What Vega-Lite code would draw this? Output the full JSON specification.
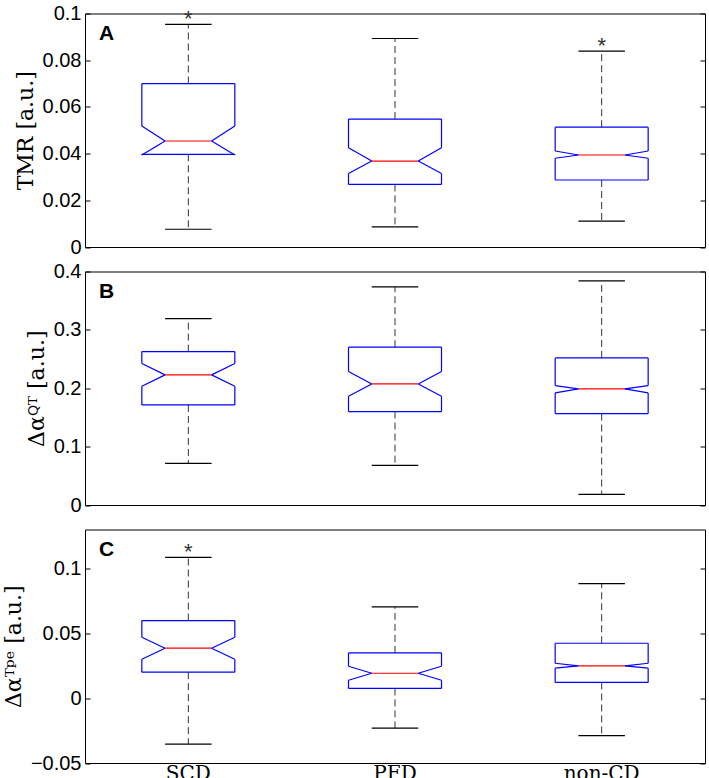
{
"$schema":"https://vega.github.io/schema/vega-lite/v6.json",
"padding":{"left":1,"top":2.5,"right":2,"bottom":0},
"background":"white",
"datasets":{"stats":[
{"panel":"A","group":"SCD","lo":0.0076,"q1":0.0397,"nlo":0.0394,"med":0.0454,"nhi":0.0518,"q3":0.07,"hi":0.0953,"star":true},
{"panel":"A","group":"PFD","lo":0.0086,"q1":0.0268,"nlo":0.0315,"med":0.0368,"nhi":0.0425,"q3":0.0548,"hi":0.0893,"star":false},
{"panel":"A","group":"non-CD","lo":0.0111,"q1":0.0287,"nlo":0.038,"med":0.0394,"nhi":0.0411,"q3":0.0513,"hi":0.0839,"star":true},
{"panel":"B","group":"SCD","lo":0.0714,"q1":0.1714,"nlo":0.2034,"med":0.2229,"nhi":0.2423,"q3":0.2628,"hi":0.3194,"star":false},
{"panel":"B","group":"PFD","lo":0.068,"q1":0.16,"nlo":0.1863,"med":0.2074,"nhi":0.2286,"q3":0.2703,"hi":0.3737,"star":false},
{"panel":"B","group":"non-CD","lo":0.0183,"q1":0.1566,"nlo":0.192,"med":0.1989,"nhi":0.2046,"q3":0.252,"hi":0.384,"star":false},
{"panel":"C","group":"SCD","lo":-0.0354,"q1":0.02,"nlo":0.03,"med":0.0385,"nhi":0.0469,"q3":0.0598,"hi":0.1085,"star":true},
{"panel":"C","group":"PFD","lo":-0.0231,"q1":0.0075,"nlo":0.0138,"med":0.0192,"nhi":0.0246,"q3":0.0349,"hi":0.0703,"star":false},
{"panel":"C","group":"non-CD","lo":-0.0289,"q1":0.0121,"nlo":0.0231,"med":0.0249,"nhi":0.0269,"q3":0.0423,"hi":0.0882,"star":false}
]},
"data":{"name":"stats"},
"spacing":24,
"bounds":"flush",
"config":{
 "view":{"stroke":"black","strokeWidth":1},
 "axisX":{"labels":false,"ticks":false,"domain":false,"grid":false},
 "axisY":{"grid":false,"domain":false}
},
"vconcat":[
{
 "width":620,"height":233.5,
 "transform":[{"filter":"datum.panel === 'A'"}],
 "resolve":{"axis":{"y":"independent"}},
 "layer":[
 {"layer":[
  {"mark":{"type":"rule","color":"#333333","strokeWidth":1,"strokeDash":[7,4]},
   "encoding":{"x":{"field":"group","type":"nominal","bandPosition":0.5,"scale":{"type":"band","paddingInner":0,"paddingOuter":0,"domain":["SCD","PFD","non-CD"]},"title":null,"axis":{"labels":false,"ticks":false,"domain":false,"title":null}},
    "y":{"field":"q3","type":"quantitative","scale":{"domain":[0,0.1]},"axis":{"title":"TMR [a.u.]","values":[0,0.02,0.04,0.06,0.08,0.1],"format":"~g","labelFont":"Liberation Sans","labelFontSize":20,"labelColor":"black","tickColor":"black","tickSize":-5,"labelPadding":9,"titleFont":"DejaVu Serif","titleFontSize":22,"titleFontWeight":"normal","titleColor":"black","titlePadding":5,"domain":false,"grid":false}},
    "y2":{"field":"hi"}}},
  {"mark":{"type":"rule","color":"#333333","strokeWidth":1,"strokeDash":[7,4]},
   "encoding":{"x":{"field":"group","type":"nominal","bandPosition":0.5,"title":null},"y":{"field":"q1","type":"quantitative","scale":{"domain":[0,0.1]}},"y2":{"field":"lo"}}},
  {"mark":{"type":"rule","color":"black","strokeWidth":1.2},
   "encoding":{"x":{"field":"group","type":"nominal","bandPosition":0.3875,"title":null},"x2":{"field":"group","bandPosition":0.6125,"title":null},"y":{"field":"hi","type":"quantitative","scale":{"domain":[0,0.1]}}}},
  {"mark":{"type":"rule","color":"black","strokeWidth":1.2},
   "encoding":{"x":{"field":"group","type":"nominal","bandPosition":0.3875,"title":null},"x2":{"field":"group","bandPosition":0.6125,"title":null},"y":{"field":"lo","type":"quantitative","scale":{"domain":[0,0.1]}}}},
  {"mark":{"type":"rule","color":"#0000ff","strokeWidth":1.2},
   "encoding":{"x":{"field":"group","type":"nominal","bandPosition":0.275,"title":null},"x2":{"field":"group","bandPosition":0.725,"title":null},"y":{"field":"q3","type":"quantitative","scale":{"domain":[0,0.1]}}}},
  {"mark":{"type":"rule","color":"#0000ff","strokeWidth":1.2},
   "encoding":{"x":{"field":"group","type":"nominal","bandPosition":0.275,"title":null},"x2":{"field":"group","bandPosition":0.725,"title":null},"y":{"field":"q1","type":"quantitative","scale":{"domain":[0,0.1]}}}},
  {"mark":{"type":"rule","color":"#0000ff","strokeWidth":1.2},
   "encoding":{"x":{"field":"group","type":"nominal","bandPosition":0.275,"title":null},"y":{"field":"q3","type":"quantitative","scale":{"domain":[0,0.1]}},"y2":{"field":"nhi"}}},
  {"mark":{"type":"rule","color":"#0000ff","strokeWidth":1.2},
   "encoding":{"x":{"field":"group","type":"nominal","bandPosition":0.725,"title":null},"y":{"field":"q3","type":"quantitative","scale":{"domain":[0,0.1]}},"y2":{"field":"nhi"}}},
  {"mark":{"type":"rule","color":"#0000ff","strokeWidth":1.2},
   "encoding":{"x":{"field":"group","type":"nominal","bandPosition":0.275,"title":null},"y":{"field":"q1","type":"quantitative","scale":{"domain":[0,0.1]}},"y2":{"field":"nlo"}}},
  {"mark":{"type":"rule","color":"#0000ff","strokeWidth":1.2},
   "encoding":{"x":{"field":"group","type":"nominal","bandPosition":0.725,"title":null},"y":{"field":"q1","type":"quantitative","scale":{"domain":[0,0.1]}},"y2":{"field":"nlo"}}},
  {"mark":{"type":"rule","color":"#0000ff","strokeWidth":1.2},
   "encoding":{"x":{"field":"group","type":"nominal","bandPosition":0.275,"title":null},"x2":{"field":"group","bandPosition":0.3875,"title":null},"y":{"field":"nhi","type":"quantitative","scale":{"domain":[0,0.1]}},"y2":{"field":"med"}}},
  {"mark":{"type":"rule","color":"#0000ff","strokeWidth":1.2},
   "encoding":{"x":{"field":"group","type":"nominal","bandPosition":0.275,"title":null},"x2":{"field":"group","bandPosition":0.3875,"title":null},"y":{"field":"nlo","type":"quantitative","scale":{"domain":[0,0.1]}},"y2":{"field":"med"}}},
  {"mark":{"type":"rule","color":"#0000ff","strokeWidth":1.2},
   "encoding":{"x":{"field":"group","type":"nominal","bandPosition":0.725,"title":null},"x2":{"field":"group","bandPosition":0.6125,"title":null},"y":{"field":"nhi","type":"quantitative","scale":{"domain":[0,0.1]}},"y2":{"field":"med"}}},
  {"mark":{"type":"rule","color":"#0000ff","strokeWidth":1.2},
   "encoding":{"x":{"field":"group","type":"nominal","bandPosition":0.725,"title":null},"x2":{"field":"group","bandPosition":0.6125,"title":null},"y":{"field":"nlo","type":"quantitative","scale":{"domain":[0,0.1]}},"y2":{"field":"med"}}},
  {"mark":{"type":"rule","color":"#ff0000","strokeWidth":1.2},
   "encoding":{"x":{"field":"group","type":"nominal","bandPosition":0.3875,"title":null},"x2":{"field":"group","bandPosition":0.6125,"title":null},"y":{"field":"med","type":"quantitative","scale":{"domain":[0,0.1]}}}},
  {"transform":[{"filter":"datum.star"}],
   "mark":{"type":"text","text":"*","font":"Liberation Sans","fontSize":22,"color":"#333333","align":"center","baseline":"alphabetic","dy":2},
   "encoding":{"x":{"field":"group","type":"nominal","bandPosition":0.5,"title":null},"y":{"field":"hi","type":"quantitative","scale":{"domain":[0,0.1]}}}},
  {"transform":[{"filter":"datum.group === 'SCD'"}],
   "mark":{"type":"text","font":"Liberation Sans","fontWeight":"bold","fontSize":21,"color":"black","align":"left","baseline":"alphabetic","dx":14,"dy":26.5},
   "encoding":{"x":{"field":"group","type":"nominal","bandPosition":0,"title":null},"y":{"datum":0.1,"type":"quantitative","scale":{"domain":[0,0.1]}},"text":{"field":"panel"}}}
 ]},
 {"mark":{"type":"rule","opacity":0},
  "encoding":{"y":{"field":"hi","type":"quantitative","scale":{"domain":[0,0.1]},"axis":{"orient":"right","labels":false,"title":null,"values":[0,0.02,0.04,0.06,0.08,0.1],"tickSize":-5,"tickColor":"black","domain":false,"grid":false}}}}
 ]
},
{
 "width":620,"height":233.5,
 "transform":[{"filter":"datum.panel === 'B'"}],
 "resolve":{"axis":{"y":"independent"}},
 "layer":[
 {"layer":[
  {"mark":{"type":"rule","color":"#333333","strokeWidth":1,"strokeDash":[7,4]},
   "encoding":{"x":{"field":"group","type":"nominal","bandPosition":0.5,"scale":{"type":"band","paddingInner":0,"paddingOuter":0,"domain":["SCD","PFD","non-CD"]},"title":null,"axis":{"labels":false,"ticks":false,"domain":false,"title":null}},
    "y":{"field":"q3","type":"quantitative","scale":{"domain":[0,0.4]},"axis":{"title":"Δαꟴᵀ [a.u.]","values":[0,0.1,0.2,0.3,0.4],"format":"~g","labelFont":"Liberation Sans","labelFontSize":20,"labelColor":"black","tickColor":"black","tickSize":-5,"labelPadding":9,"titleFont":"DejaVu Serif","titleFontSize":22,"titleFontWeight":"normal","titleColor":"black","titlePadding":5,"domain":false,"grid":false}},
    "y2":{"field":"hi"}}},
  {"mark":{"type":"rule","color":"#333333","strokeWidth":1,"strokeDash":[7,4]},
   "encoding":{"x":{"field":"group","type":"nominal","bandPosition":0.5,"title":null},"y":{"field":"q1","type":"quantitative","scale":{"domain":[0,0.4]}},"y2":{"field":"lo"}}},
  {"mark":{"type":"rule","color":"black","strokeWidth":1.2},
   "encoding":{"x":{"field":"group","type":"nominal","bandPosition":0.3875,"title":null},"x2":{"field":"group","bandPosition":0.6125,"title":null},"y":{"field":"hi","type":"quantitative","scale":{"domain":[0,0.4]}}}},
  {"mark":{"type":"rule","color":"black","strokeWidth":1.2},
   "encoding":{"x":{"field":"group","type":"nominal","bandPosition":0.3875,"title":null},"x2":{"field":"group","bandPosition":0.6125,"title":null},"y":{"field":"lo","type":"quantitative","scale":{"domain":[0,0.4]}}}},
  {"mark":{"type":"rule","color":"#0000ff","strokeWidth":1.2},
   "encoding":{"x":{"field":"group","type":"nominal","bandPosition":0.275,"title":null},"x2":{"field":"group","bandPosition":0.725,"title":null},"y":{"field":"q3","type":"quantitative","scale":{"domain":[0,0.4]}}}},
  {"mark":{"type":"rule","color":"#0000ff","strokeWidth":1.2},
   "encoding":{"x":{"field":"group","type":"nominal","bandPosition":0.275,"title":null},"x2":{"field":"group","bandPosition":0.725,"title":null},"y":{"field":"q1","type":"quantitative","scale":{"domain":[0,0.4]}}}},
  {"mark":{"type":"rule","color":"#0000ff","strokeWidth":1.2},
   "encoding":{"x":{"field":"group","type":"nominal","bandPosition":0.275,"title":null},"y":{"field":"q3","type":"quantitative","scale":{"domain":[0,0.4]}},"y2":{"field":"nhi"}}},
  {"mark":{"type":"rule","color":"#0000ff","strokeWidth":1.2},
   "encoding":{"x":{"field":"group","type":"nominal","bandPosition":0.725,"title":null},"y":{"field":"q3","type":"quantitative","scale":{"domain":[0,0.4]}},"y2":{"field":"nhi"}}},
  {"mark":{"type":"rule","color":"#0000ff","strokeWidth":1.2},
   "encoding":{"x":{"field":"group","type":"nominal","bandPosition":0.275,"title":null},"y":{"field":"q1","type":"quantitative","scale":{"domain":[0,0.4]}},"y2":{"field":"nlo"}}},
  {"mark":{"type":"rule","color":"#0000ff","strokeWidth":1.2},
   "encoding":{"x":{"field":"group","type":"nominal","bandPosition":0.725,"title":null},"y":{"field":"q1","type":"quantitative","scale":{"domain":[0,0.4]}},"y2":{"field":"nlo"}}},
  {"mark":{"type":"rule","color":"#0000ff","strokeWidth":1.2},
   "encoding":{"x":{"field":"group","type":"nominal","bandPosition":0.275,"title":null},"x2":{"field":"group","bandPosition":0.3875,"title":null},"y":{"field":"nhi","type":"quantitative","scale":{"domain":[0,0.4]}},"y2":{"field":"med"}}},
  {"mark":{"type":"rule","color":"#0000ff","strokeWidth":1.2},
   "encoding":{"x":{"field":"group","type":"nominal","bandPosition":0.275,"title":null},"x2":{"field":"group","bandPosition":0.3875,"title":null},"y":{"field":"nlo","type":"quantitative","scale":{"domain":[0,0.4]}},"y2":{"field":"med"}}},
  {"mark":{"type":"rule","color":"#0000ff","strokeWidth":1.2},
   "encoding":{"x":{"field":"group","type":"nominal","bandPosition":0.725,"title":null},"x2":{"field":"group","bandPosition":0.6125,"title":null},"y":{"field":"nhi","type":"quantitative","scale":{"domain":[0,0.4]}},"y2":{"field":"med"}}},
  {"mark":{"type":"rule","color":"#0000ff","strokeWidth":1.2},
   "encoding":{"x":{"field":"group","type":"nominal","bandPosition":0.725,"title":null},"x2":{"field":"group","bandPosition":0.6125,"title":null},"y":{"field":"nlo","type":"quantitative","scale":{"domain":[0,0.4]}},"y2":{"field":"med"}}},
  {"mark":{"type":"rule","color":"#ff0000","strokeWidth":1.2},
   "encoding":{"x":{"field":"group","type":"nominal","bandPosition":0.3875,"title":null},"x2":{"field":"group","bandPosition":0.6125,"title":null},"y":{"field":"med","type":"quantitative","scale":{"domain":[0,0.4]}}}},
  {"transform":[{"filter":"datum.group === 'SCD'"}],
   "mark":{"type":"text","font":"Liberation Sans","fontWeight":"bold","fontSize":21,"color":"black","align":"left","baseline":"alphabetic","dx":14,"dy":26.5},
   "encoding":{"x":{"field":"group","type":"nominal","bandPosition":0,"title":null},"y":{"datum":0.4,"type":"quantitative","scale":{"domain":[0,0.4]}},"text":{"field":"panel"}}}
 ]},
 {"mark":{"type":"rule","opacity":0},
  "encoding":{"y":{"field":"hi","type":"quantitative","scale":{"domain":[0,0.4]},"axis":{"orient":"right","labels":false,"title":null,"values":[0,0.1,0.2,0.3,0.4],"tickSize":-5,"tickColor":"black","domain":false,"grid":false}}}}
 ]
},
{
 "width":620,"height":233.5,
 "transform":[{"filter":"datum.panel === 'C'"}],
 "resolve":{"axis":{"y":"independent"}},
 "layer":[
 {"layer":[
  {"mark":{"type":"rule","color":"#333333","strokeWidth":1,"strokeDash":[7,4]},
   "encoding":{"x":{"field":"group","type":"nominal","bandPosition":0.5,"scale":{"type":"band","paddingInner":0,"paddingOuter":0,"domain":["SCD","PFD","non-CD"]},"title":null,"axis":{"labels":true,"labelAngle":0,"labelFont":"DejaVu Serif","labelFontSize":20,"labelColor":"black","labelPadding":0,"ticks":false,"domain":false,"title":null}},
    "y":{"field":"q3","type":"quantitative","scale":{"domain":[-0.05,0.13]},"axis":{"title":"Δαᵀᵖᵉ [a.u.]","values":[-0.05,0,0.05,0.1],"format":"~g","labelFont":"Liberation Sans","labelFontSize":20,"labelColor":"black","tickColor":"black","tickSize":-5,"labelPadding":9,"titleFont":"DejaVu Serif","titleFontSize":22,"titleFontWeight":"normal","titleColor":"black","titlePadding":5,"domain":false,"grid":false}},
    "y2":{"field":"hi"}}},
  {"mark":{"type":"rule","color":"#333333","strokeWidth":1,"strokeDash":[7,4]},
   "encoding":{"x":{"field":"group","type":"nominal","bandPosition":0.5,"title":null},"y":{"field":"q1","type":"quantitative","scale":{"domain":[-0.05,0.13]}},"y2":{"field":"lo"}}},
  {"mark":{"type":"rule","color":"black","strokeWidth":1.2},
   "encoding":{"x":{"field":"group","type":"nominal","bandPosition":0.3875,"title":null},"x2":{"field":"group","bandPosition":0.6125,"title":null},"y":{"field":"hi","type":"quantitative","scale":{"domain":[-0.05,0.13]}}}},
  {"mark":{"type":"rule","color":"black","strokeWidth":1.2},
   "encoding":{"x":{"field":"group","type":"nominal","bandPosition":0.3875,"title":null},"x2":{"field":"group","bandPosition":0.6125,"title":null},"y":{"field":"lo","type":"quantitative","scale":{"domain":[-0.05,0.13]}}}},
  {"mark":{"type":"rule","color":"#0000ff","strokeWidth":1.2},
   "encoding":{"x":{"field":"group","type":"nominal","bandPosition":0.275,"title":null},"x2":{"field":"group","bandPosition":0.725,"title":null},"y":{"field":"q3","type":"quantitative","scale":{"domain":[-0.05,0.13]}}}},
  {"mark":{"type":"rule","color":"#0000ff","strokeWidth":1.2},
   "encoding":{"x":{"field":"group","type":"nominal","bandPosition":0.275,"title":null},"x2":{"field":"group","bandPosition":0.725,"title":null},"y":{"field":"q1","type":"quantitative","scale":{"domain":[-0.05,0.13]}}}},
  {"mark":{"type":"rule","color":"#0000ff","strokeWidth":1.2},
   "encoding":{"x":{"field":"group","type":"nominal","bandPosition":0.275,"title":null},"y":{"field":"q3","type":"quantitative","scale":{"domain":[-0.05,0.13]}},"y2":{"field":"nhi"}}},
  {"mark":{"type":"rule","color":"#0000ff","strokeWidth":1.2},
   "encoding":{"x":{"field":"group","type":"nominal","bandPosition":0.725,"title":null},"y":{"field":"q3","type":"quantitative","scale":{"domain":[-0.05,0.13]}},"y2":{"field":"nhi"}}},
  {"mark":{"type":"rule","color":"#0000ff","strokeWidth":1.2},
   "encoding":{"x":{"field":"group","type":"nominal","bandPosition":0.275,"title":null},"y":{"field":"q1","type":"quantitative","scale":{"domain":[-0.05,0.13]}},"y2":{"field":"nlo"}}},
  {"mark":{"type":"rule","color":"#0000ff","strokeWidth":1.2},
   "encoding":{"x":{"field":"group","type":"nominal","bandPosition":0.725,"title":null},"y":{"field":"q1","type":"quantitative","scale":{"domain":[-0.05,0.13]}},"y2":{"field":"nlo"}}},
  {"mark":{"type":"rule","color":"#0000ff","strokeWidth":1.2},
   "encoding":{"x":{"field":"group","type":"nominal","bandPosition":0.275,"title":null},"x2":{"field":"group","bandPosition":0.3875,"title":null},"y":{"field":"nhi","type":"quantitative","scale":{"domain":[-0.05,0.13]}},"y2":{"field":"med"}}},
  {"mark":{"type":"rule","color":"#0000ff","strokeWidth":1.2},
   "encoding":{"x":{"field":"group","type":"nominal","bandPosition":0.275,"title":null},"x2":{"field":"group","bandPosition":0.3875,"title":null},"y":{"field":"nlo","type":"quantitative","scale":{"domain":[-0.05,0.13]}},"y2":{"field":"med"}}},
  {"mark":{"type":"rule","color":"#0000ff","strokeWidth":1.2},
   "encoding":{"x":{"field":"group","type":"nominal","bandPosition":0.725,"title":null},"x2":{"field":"group","bandPosition":0.6125,"title":null},"y":{"field":"nhi","type":"quantitative","scale":{"domain":[-0.05,0.13]}},"y2":{"field":"med"}}},
  {"mark":{"type":"rule","color":"#0000ff","strokeWidth":1.2},
   "encoding":{"x":{"field":"group","type":"nominal","bandPosition":0.725,"title":null},"x2":{"field":"group","bandPosition":0.6125,"title":null},"y":{"field":"nlo","type":"quantitative","scale":{"domain":[-0.05,0.13]}},"y2":{"field":"med"}}},
  {"mark":{"type":"rule","color":"#ff0000","strokeWidth":1.2},
   "encoding":{"x":{"field":"group","type":"nominal","bandPosition":0.3875,"title":null},"x2":{"field":"group","bandPosition":0.6125,"title":null},"y":{"field":"med","type":"quantitative","scale":{"domain":[-0.05,0.13]}}}},
  {"transform":[{"filter":"datum.star"}],
   "mark":{"type":"text","text":"*","font":"Liberation Sans","fontSize":22,"color":"#333333","align":"center","baseline":"alphabetic","dy":2},
   "encoding":{"x":{"field":"group","type":"nominal","bandPosition":0.5,"title":null},"y":{"field":"hi","type":"quantitative","scale":{"domain":[-0.05,0.13]}}}},
  {"transform":[{"filter":"datum.group === 'SCD'"}],
   "mark":{"type":"text","font":"Liberation Sans","fontWeight":"bold","fontSize":21,"color":"black","align":"left","baseline":"alphabetic","dx":14,"dy":26.5},
   "encoding":{"x":{"field":"group","type":"nominal","bandPosition":0,"title":null},"y":{"datum":0.13,"type":"quantitative","scale":{"domain":[-0.05,0.13]}},"text":{"field":"panel"}}}
 ]},
 {"mark":{"type":"rule","opacity":0},
  "encoding":{"y":{"field":"hi","type":"quantitative","scale":{"domain":[-0.05,0.13]},"axis":{"orient":"right","labels":false,"title":null,"values":[-0.05,0,0.05,0.1],"tickSize":-5,"tickColor":"black","domain":false,"grid":false}}}}
 ]
}
]
}
